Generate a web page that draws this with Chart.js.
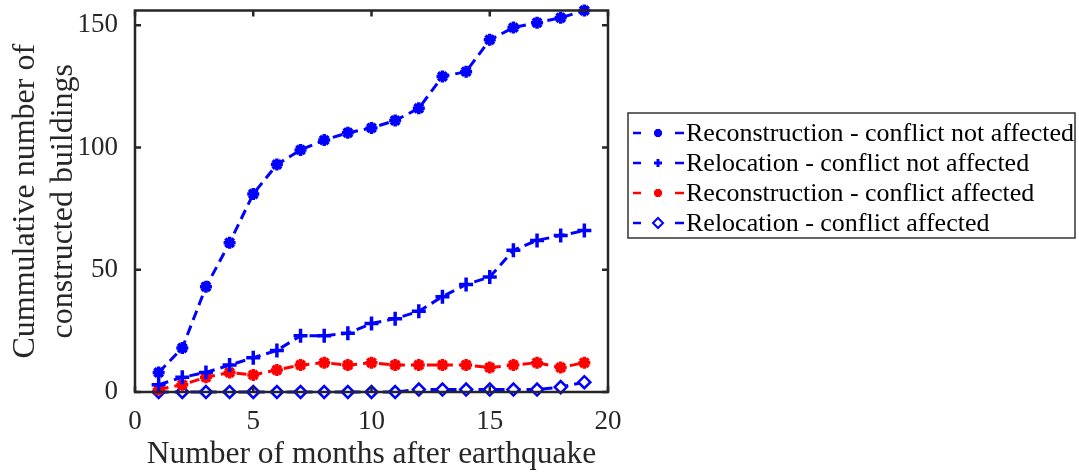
<!DOCTYPE html>
<html>
<head>
<meta charset="utf-8">
<script src="https://cdn.jsdelivr.net/npm/chart.js@4/dist/chart.umd.min.js"></script>
<style>
  body { margin: 0; background: #fff; }
  canvas { display: block; }
</style>
</head>
<body>
<canvas id="chart" width="1079" height="474"></canvas>
<script>
const months = [1, 2, 3, 4, 5, 6, 7, 8, 9, 10, 11, 12, 13, 14, 15, 16, 17, 18, 19];
const reconNotAffected = [8, 18, 43, 61, 81, 93, 99, 103, 106, 108, 111, 116, 129, 131, 144, 149, 151, 153, 156];
const relocNotAffected = [3, 6, 8, 11, 14, 17, 23, 23, 24, 28, 30, 33, 39, 44, 47, 58, 62, 64, 66];
const reconAffected = [1, 3, 6, 8, 7, 9, 11, 12, 11, 12, 11, 11, 11, 11, 10, 11, 12, 10, 12];
const relocAffected = [0, 0, 0, 0, 0, 0, 0, 0, 0, 0, 0, 1, 1, 1, 1, 1, 1, 2, 4];
const xTicks = [0, 5, 10, 15, 20];
const yTicks = [0, 50, 100, 150];
const seriesNames = [
  "Reconstruction - conflict not affected",
  "Relocation - conflict not affected",
  "Reconstruction - conflict affected",
  "Relocation - conflict affected"
];

const BLUE = "#0000ff";
const RED = "#ff0000";
const AXIS = "#262626";
const SERIF = "'Liberation Serif', 'Times New Roman', serif";

function pts(ys) {
  return months.map((m, i) => ({ x: m, y: ys[i] }));
}

function makeSet(label, ys, color, style, radius, fill) {
  return {
    label: label,
    data: pts(ys),
    borderColor: color,
    backgroundColor: color,
    borderWidth: 3,
    borderDash: [10, 6],
    pointStyle: style,
    pointRadius: radius,
    pointBorderWidth: style === "rectRot" ? 2.5 : 3.5,
    pointBackgroundColor: fill,
    pointBorderColor: color,
    tension: 0,
    clip: false
  };
}

// box round the plot with inward ticks, like the original
const boxPlugin = {
  id: "box",
  afterDraw(chart) {
    const { ctx, chartArea: a, scales } = chart;
    ctx.save();
    ctx.strokeStyle = AXIS;
    ctx.lineWidth = 2.5;
    ctx.strokeRect(a.left, a.top, a.right - a.left, a.bottom - a.top);
    const len = 6;
    ctx.beginPath();
    xTicks.forEach(v => {
      const px = scales.x.getPixelForValue(v);
      ctx.moveTo(px, a.bottom); ctx.lineTo(px, a.bottom - len);
      ctx.moveTo(px, a.top); ctx.lineTo(px, a.top + len);
    });
    yTicks.forEach(v => {
      const py = scales.y.getPixelForValue(v);
      ctx.moveTo(a.left, py); ctx.lineTo(a.left + len, py);
      ctx.moveTo(a.right, py); ctx.lineTo(a.right - len, py);
    });
    ctx.stroke();
    ctx.restore();
  }
};

// legend with a dashed line sample and marker, drawn to the right
const legendPlugin = {
  id: "sideLegend",
  afterDraw(chart) {
    const ctx = chart.ctx;
    const bx = 628, by = 113, bw = 447, bh = 125;
    ctx.save();
    ctx.fillStyle = "#fff";
    ctx.fillRect(bx, by, bw, bh);
    ctx.strokeStyle = "#333";
    ctx.lineWidth = 1.5;
    ctx.strokeRect(bx, by, bw, bh);
    ctx.font = "26px " + SERIF;
    ctx.textBaseline = "middle";
    chart.data.datasets.forEach((ds, i) => {
      const y = by + 20 + i * 30;
      ctx.strokeStyle = ds.borderColor;
      ctx.lineWidth = 2.5;
      ctx.setLineDash([]);
      ctx.beginPath();
      ctx.moveTo(633, y); ctx.lineTo(641, y);
      ctx.moveTo(675, y); ctx.lineTo(684, y);
      ctx.stroke();
      ctx.fillStyle = ds.pointBackgroundColor;
      ctx.lineWidth = ds.pointStyle === "rectRot" ? 2 : 3;
      Chart.helpers.drawPoint(ctx, {
        pointStyle: ds.pointStyle,
        radius: ds.pointStyle === "rectRot" ? 5 : 4,
        borderWidth: ctx.lineWidth,
        rotation: 0
      }, 658, y);
      ctx.fillStyle = "#000";
      ctx.fillText(ds.label, 686, y + 1);
    });
    ctx.restore();
  }
};

new Chart(document.getElementById("chart"), {
  type: "line",
  data: {
    datasets: [
      makeSet(seriesNames[0], reconNotAffected, BLUE, "star", 6, BLUE),
      makeSet(seriesNames[1], relocNotAffected, BLUE, "cross", 7, BLUE),
      makeSet(seriesNames[2], reconAffected, RED, "star", 6, RED),
      makeSet(seriesNames[3], relocAffected, BLUE, "rectRot", 6, "#fff")
    ]
  },
  options: {
    responsive: false,
    animation: false,
    layout: { padding: { top: 9, right: 471, left: 0, bottom: 0 } },
    plugins: { legend: { display: false }, tooltip: { enabled: false } },
    scales: {
      x: {
        type: "linear",
        min: 0,
        max: 20,
        afterBuildTicks: s => { s.ticks = xTicks.map(v => ({ value: v })); },
        afterFit: s => { s.height = 82; s.paddingLeft = 0; s.paddingRight = 0; },
        grid: { display: false },
        border: { display: false },
        ticks: { padding: 6, color: AXIS, font: { family: SERIF, size: 27 }, maxRotation: 0 },
        title: {
          display: true,
          text: "Number of months after earthquake",
          color: AXIS,
          font: { family: SERIF, size: 31.5, lineHeight: 1.2 },
          padding: { top: 0, bottom: 0 }
        }
      },
      y: {
        type: "linear",
        min: 0,
        max: 156,
        afterBuildTicks: s => { s.ticks = yTicks.map(v => ({ value: v })); },
        afterFit: s => { s.width = 135; s.paddingTop = 0; s.paddingBottom = 0; },
        grid: { display: false },
        border: { display: false },
        ticks: { padding: 9, color: AXIS, font: { family: SERIF, size: 27 } },
        title: {
          display: true,
          text: ["Cummulative number of", "constructed buildings"],
          color: AXIS,
          font: { family: SERIF, size: 32, lineHeight: 1.2 },
          padding: { top: 6, bottom: 0 }
        }
      }
    }
  },
  plugins: [boxPlugin, legendPlugin]
});
</script>
</body>
</html>
